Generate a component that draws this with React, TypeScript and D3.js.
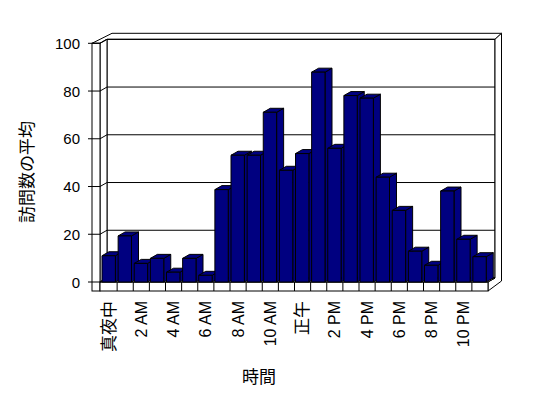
import React from 'react';
import * as d3 from 'd3';

// hourly categories (label shown on every other one)
const hours: string[] = [
  '真夜中', '1 AM', '2 AM', '3 AM', '4 AM', '5 AM', '6 AM', '7 AM', '8 AM', '9 AM', '10 AM', '11 AM',
  '正午', '1 PM', '2 PM', '3 PM', '4 PM', '5 PM', '6 PM', '7 PM', '8 PM', '9 PM', '10 PM', '11 PM',
];
const avgVisits: number[] = [
  11, 19.3, 7.8, 9.9, 4.1, 9.9, 2.8, 38.7, 53.1, 53.1, 71.1, 46.8,
  53.8, 87.9, 56, 78.1, 77, 43.9, 30, 12.9, 7, 38.1, 17.9, 10.6,
];
const yTicks: number[] = [0, 20, 40, 60, 80, 100];
const xTitle = '時間';
const yTitle = '訪問数の平均';

const W = 548, H = 398;
const FONT = "'Liberation Sans', 'Noto Sans CJK JP', sans-serif";
const isCJK = (s: string) => /[^\x00-\x7F]/.test(s);

const App: React.FC = (): JSX.Element => {
  // front plane scales
  const xScale = d3.scaleBand<string>().domain(hours).range([101, 488]).padding(0);
  const yScale = d3.scaleLinear().domain([0, 100]).range([282, 43.3]);

  const dx = 7, dy = -4;          // depth of the plot box
  const tbx = 6.5, tby = -6;      // back wall thickness
  const wallL = 92, wallR = 100;  // left wall front face
  const floorB = 291;             // bottom of floor slab

  const x1 = xScale.range()[1];
  const yTop = yScale(100), yBase = yScale(0);
  const step = xScale.bandwidth();
  const barW = step * 0.83;

  const pts = (p: number[][]) => p.map(d => d.join(',')).join(' ');
  const line = { stroke: '#000', strokeWidth: 1, fill: 'none' } as const;

  return (
    <svg width={W} height={H} style={{ position: 'absolute', left: 0, top: 0, background: '#fff' }}
      fontFamily={FONT}>
      {/* back wall front face */}
      <rect x={wallR + dx} y={yTop + dy} width={x1 - wallR} height={yBase - yTop}
        fill="#fff" stroke="#000" />
      {/* top of walls */}
      <polygon points={pts([
        [wallL, yTop], [wallR + dx + tbx - 1.5, yTop + dy + tby], [x1 + dx + tbx, yTop + dy + tby],
        [x1 + dx, yTop + dy], [wallR + dx, yTop + dy], [wallR, yTop],
      ])} fill="#fff" stroke="#000" />
      {/* right edge of back wall + floor */}
      <polygon points={pts([
        [x1 + dx, yTop + dy], [x1 + dx + tbx, yTop + dy + tby], [x1 + dx + tbx, floorB + dy + tby],
        [x1, floorB], [x1, yBase], [x1 + dx, yBase + dy],
      ])} fill="#fff" stroke="#000" />
      {/* left wall inner face */}
      <polygon points={pts([[wallR, yTop], [wallR + dx, yTop + dy], [wallR + dx, yBase + dy], [wallR, yBase]])}
        fill="#fff" stroke="#000" />
      {/* left wall front face */}
      <rect x={wallL} y={yTop} width={wallR - wallL} height={floorB - yTop} fill="#fff" stroke="#000" />
      {/* floor front face */}
      <rect x={wallR} y={yBase} width={x1 - wallR} height={floorB - yBase} fill="#fff" stroke="#000" />
      <polygon points={pts([[wallR, yBase], [wallR + dx, yBase + dy], [x1 + dx, yBase + dy], [x1, yBase]])}
        fill="#fff" stroke="#000" />

      {/* gridlines + y ticks */}
      {yTicks.map(t => {
        const y = yScale(t);
        return (
          <g key={t}>
            <polyline points={pts([[wallL - 4, y], [wallR, y], [wallR + dx, y + dy], [x1 + dx, y + dy]])} {...line} />
            <text x={80} y={y} textAnchor="end" dominantBaseline="central" fontSize={15}>{t}</text>
          </g>
        );
      })}

      {/* category ticks on floor */}
      {hours.slice(1).map(h => (
        <line key={h} x1={xScale(h)} x2={xScale(h)} y1={yBase} y2={floorB} {...line} />
      ))}

      {/* bars */}
      {hours.map((h, i) => {
        const bx = (xScale(h) as number) + 1;
        const by = yScale(avgVisits[i]);
        return (
          <g key={h} fill="#000080" stroke="#000" strokeWidth={1} strokeLinejoin="round">
            <polygon points={pts([[bx + barW, by], [bx + barW + dx, by + dy], [bx + barW + dx, yBase + dy], [bx + barW, yBase]])} />
            <polygon points={pts([[bx, by], [bx + dx, by + dy], [bx + barW + dx, by + dy], [bx + barW, by]])} />
            <rect x={bx} y={by} width={barW} height={yBase - by} />
          </g>
        );
      })}

      {/* x labels */}
      {hours.map((h, i) => i % 2 === 0 && (
        <text key={h} transform={`translate(${(xScale(h) as number) + step / 2},301) rotate(-90)`}
          textAnchor="end" dominantBaseline="central" fontSize={isCJK(h) ? 17 : 16}>{h}</text>
      ))}

      <text x={259} y={377} textAnchor="middle" dominantBaseline="central" fontSize={17}>{xTitle}</text>
      <text transform="translate(27,172) rotate(-90)" textAnchor="middle" dominantBaseline="central"
        fontSize={17}>{yTitle}</text>
    </svg>
  );
};

export default App;
